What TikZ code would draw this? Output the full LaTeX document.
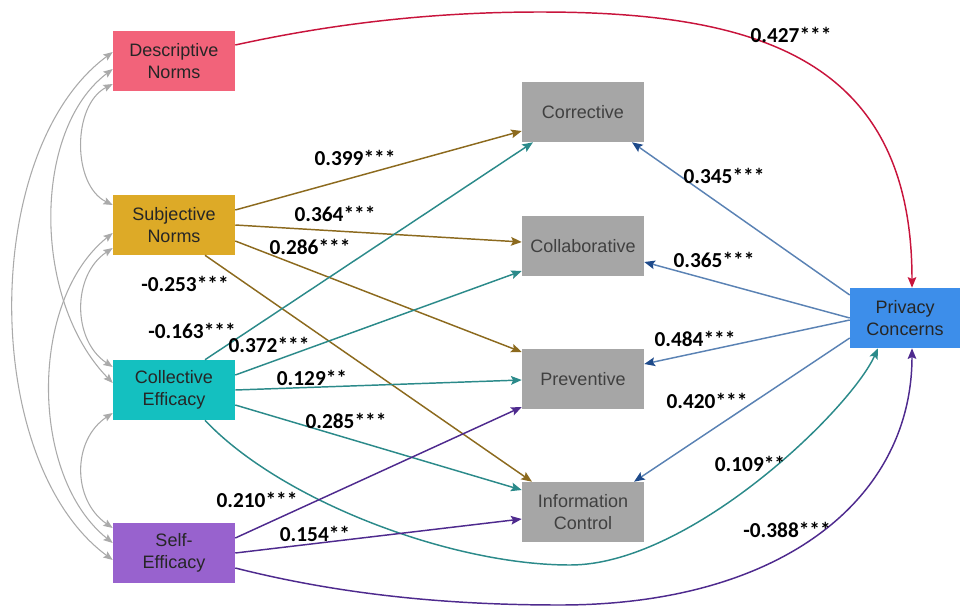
\documentclass[tikz,border=0pt]{standalone}
\usepackage{fontspec}
\setmainfont{Liberation Sans}
\newfontfamily\lblfont{Carlito}
\usetikzlibrary{arrows.meta,calc}
\definecolor{dncol}{HTML}{F2637A}
\definecolor{sncol}{HTML}{DDAA27}
\definecolor{cecol}{HTML}{14C0C0}
\definecolor{secol}{HTML}{9862CE}
\definecolor{outcol}{HTML}{A6A6A6}
\definecolor{pccol}{HTML}{3D8EEA}
\definecolor{snline}{HTML}{8C6A1E}
\definecolor{celine}{HTML}{2B8A8A}
\definecolor{seline}{HTML}{4E2A8E}
\definecolor{dnline}{HTML}{C8143C}
\definecolor{pcline}{HTML}{5A82B4}
\definecolor{pctip}{HTML}{1E4A8A}
\definecolor{corrcol}{HTML}{AAAAAA}
\begin{document}
\begin{tikzpicture}[x=0.75pt,y=-0.75pt,
  box/.style={minimum width=91.5pt,minimum height=45pt,inner sep=0pt,align=center,
    font=\fontsize{13.5}{16}\selectfont,text=black!85},
  obox/.style={box,fill=outcol,text=black!75},
  lbl/.style={font={\lblfont\bfseries\fontsize{16}{19}\selectfont},inner sep=0pt},
  arr/.style={line width=1.1pt,-{Stealth[length=8pt,width=6.5pt,inset=1.5pt]}},
  pcarr/.style={line width=1.1pt,pcline,-{Stealth[length=8pt,width=6.5pt,inset=1.5pt,color=pctip]}},
  corr/.style={line width=0.8pt,corrcol,{Stealth[length=7pt,width=5.5pt,inset=1.2pt]}-{Stealth[length=7pt,width=5.5pt,inset=1.2pt]}}]
\useasboundingbox (0,0) rectangle (960,607);
% boxes
\node[box,fill=dncol] (dn) at (174,61) {Descriptive\\Norms};
\node[box,fill=sncol] (sn) at (174,225) {Subjective\\Norms};
\node[box,fill=cecol] (ce) at (174,390) {Collective\\Efficacy};
\node[box,fill=secol] (se) at (174,553) {Self-\\Efficacy};
\node[obox] (cor) at (583,112) {Corrective};
\node[obox] (col) at (583,246) {Collaborative};
\node[obox] (pre) at (583,379) {Preventive};
\node[obox] (ic) at (583,512) {Information\\Control};
\node[box,fill=pccol,minimum width=82.5pt] (pc) at (905,318) {Privacy\\Concerns};
% correlations
\draw[corr] ($(dn.west)+(0,23)$) .. controls (72,105) and (72,185) .. ($(sn.west)+(0,-20)$);
\draw[corr] ($(dn.west)+(0,8)$) .. controls (32,130) and (32,300) .. ($(ce.west)+(0,-7)$);
\draw[corr] ($(dn.west)+(0,-9)$) .. controls (-20,150) and (-20,462) .. ($(se.west)+(0,7)$);
\draw[corr] ($(sn.west)+(0,23)$) .. controls (72,275) and (72,340) .. ($(ce.west)+(0,-23)$);
\draw[corr] ($(sn.west)+(0,8)$) .. controls (29,300) and (29,476) .. ($(se.west)+(0,-10)$);
\draw[corr] ($(ce.west)+(0,23)$) .. controls (72,440) and (72,500) .. ($(se.west)+(0,-25)$);
% subjective norms
\draw[arr,snline] ($(sn.east)+(0,-15)$) -- ($(cor.west)+(0,19)$);
\draw[arr,snline] (sn.east) -- ($(col.west)+(0,-4)$);
\draw[arr,snline] ($(sn.east)+(0,16)$) -- ($(pre.west)+(0,-27)$);
\draw[arr,snline] ($(sn.south)+(31,0)$) -- ($(ic.north)+(-51,0)$);
% collective efficacy
\draw[arr,celine] ($(ce.north)+(31,0)$) -- ($(cor.south)+(-50,0)$);
\draw[arr,celine] ($(ce.east)+(0,-15)$) -- ($(col.west)+(0,25)$);
\draw[arr,celine] (ce.east) -- ($(pre.west)+(0,1)$);
\draw[arr,celine] ($(ce.east)+(0,15)$) -- ($(ic.west)+(0,-22)$);
\coordinate (celow) at (570,565);
\draw[arr,celine] ($(ce.south)+(31,0)$) .. controls (280,500) and (450,565) .. (celow)
  .. controls (690,565) and (850,410) .. ($(pc.south)+(-27,0)$);
% self efficacy
\draw[arr,seline] ($(se.east)+(0,-15)$) -- ($(pre.west)+(0,28)$);
\draw[arr,seline] (se.east) -- ($(ic.west)+(0,7)$);
\coordinate (selow) at (560,605);
\draw[arr,seline] ($(se.east)+(0,15)$) .. controls (350,597) and (460,605) .. (selow)
  .. controls (780,605) and (912,500) .. ($(pc.south)+(7,0)$);
% descriptive norms
\coordinate (dntop) at (540,12);
\draw[arr,dnline] ($(dn.east)+(0,-16)$) .. controls (340,22) and (440,12) .. (dntop)
  .. controls (760,12) and (912,60) .. ($(pc.north)+(7,0)$);
% privacy concerns
\draw[pcarr] ($(pc.west)+(0,-23)$) -- ($(cor.south)+(49,0)$);
\draw[pcarr] (pc.west) -- ($(col.east)+(0,16)$);
\draw[pcarr] ($(pc.west)+(0,2)$) -- ($(pre.east)+(0,-15)$);
\draw[pcarr] ($(pc.west)+(0,20)$) -- ($(ic.north)+(51,0)$);
% labels
\node[lbl] (l1) at (791,35) {0.427***};
\node[lbl] (l2) at (355,158) {0.399***};
\node[lbl] (l3) at (335,214) {0.364***};
\node[lbl] (l4) at (310,247) {0.286***};
\node[lbl] (l5) at (185,284) {-0.253***};
\node[lbl] (l6) at (192,331) {-0.163***};
\node[lbl] (l7) at (269,345) {0.372***};
\node[lbl] (l8) at (312,378) {0.129**};
\node[lbl] (l9) at (346,421) {0.285***};
\node[lbl] (l10) at (257,500) {0.210***};
\node[lbl] (l11) at (315,534) {0.154**};
\node[lbl] (l12) at (724,176) {0.345***};
\node[lbl] (l13) at (714,260) {0.365***};
\node[lbl] (l14) at (695,339) {0.484***};
\node[lbl] (l15) at (707,401) {0.420***};
\node[lbl] (l16) at (750,464) {0.109**};
\node[lbl] (l17) at (787,530) {-0.388***};
\end{tikzpicture}
\end{document}
